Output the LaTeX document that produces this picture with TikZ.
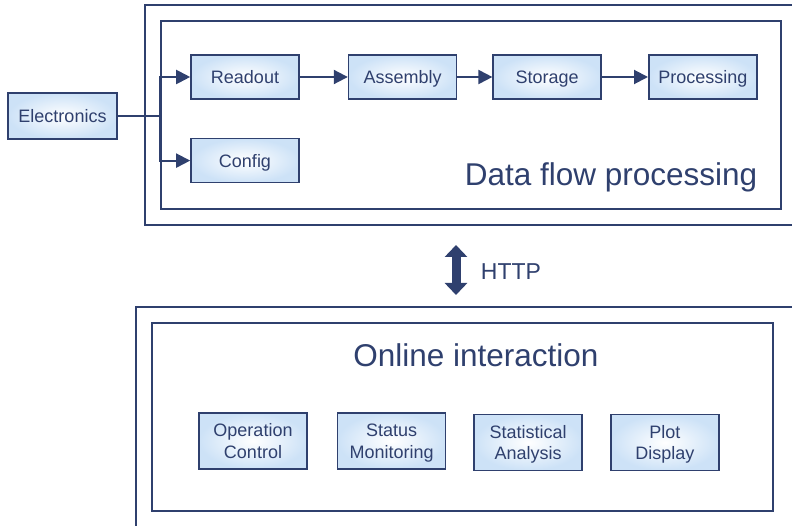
\documentclass[tikz,border=0pt]{standalone}
\usepackage{fontspec}
\setmainfont{Liberation Sans}
\usepackage{xcolor}
\usepackage{tikz}
\usetikzlibrary{arrows.meta,positioning}

\definecolor{navy}{RGB}{47,64,110}
\definecolor{paleblue}{RGB}{205,226,247}

\begin{document}
\begin{tikzpicture}[
    x=1pt, y=-1pt,
    blk/.style={rectangle, draw=navy, line width=1.6pt, inner color=white, outer color=paleblue, align=center, minimum height=44pt, minimum width=108pt, inner sep=0pt, text height=15pt, text depth=2pt, text=navy, font=\fontsize{18}{21.6}\selectfont},
    tall/.style={blk, minimum height=56pt, text height=36.6pt, text depth=2pt},
    frame/.style={draw=navy, line width=2pt},
    arr/.style={-{Triangle[length=14pt, width=14pt]}, line width=2pt, draw=navy},
    title/.style={text=navy, font=\fontsize{31.5}{38}\selectfont}
]
    \path[use as bounding box, clip] (0,0) rectangle (792,526);

    % containers
    \draw [frame] (145,5) rectangle (820,225);
    \draw [frame] (136,307) rectangle (820,560);
    \node [frame, minimum width=620pt, minimum height=188pt, inner sep=0pt] (dataflow) at (471,115) {};
    \node [frame, minimum width=621pt, minimum height=188pt, inner sep=0pt] (online) at (462.5,417) {};
    \node [title] (dftitle) at (611,177) {Data flow processing};
    \node [title] (ontitle) at (476,355) {Online interaction};

    % data flow chain
    \node [blk, minimum width=109pt, minimum height=46pt] (elec) at (62.5,116) {Electronics};
    \node [blk] (readout) at (245,77) {Readout};
    \node [blk, right=48pt of readout] (assembly) {Assembly};
    \node [blk, right=35pt of assembly] (storage) {Storage};
    \node [blk, right=46pt of storage] (processing) {Processing};
    \node [blk, below=38pt of readout] (config) {Config};

    \coordinate (fork) at (dataflow.west |- elec.east);
    \draw [frame] (elec.east) -- (fork);
    \draw [arr] (fork) |- (readout.west);
    \draw [arr] (fork) |- (config.west);
    \draw [arr] (readout) -- (assembly);
    \draw [arr] (assembly) -- (storage);
    \draw [arr] (storage) -- (processing);

    % link between the two parts
    \coordinate (linktop) at (456,245);
    \coordinate (linkbot) at (456,295);
    \draw [navy, line width=9pt, {Triangle[length=12pt, width=22pt]}-{Triangle[length=12pt, width=22pt]}] (linktop) -- (linkbot);
    \node [text=navy, font=\fontsize{23}{28}\selectfont] (http) at (511,272) {HTTP};

    % online tools
    \node [tall] (opctl) at (253,441) {Operation\\Control};
    \node [tall, right=29pt of opctl] (status) {Status\\Monitoring};
    \node [tall, right=27pt of status, yshift=-1.5pt] (stats) {Statistical\\Analysis};
    \node [tall, right=27pt of stats] (plot) {Plot\\Display};
\end{tikzpicture}
\end{document}
